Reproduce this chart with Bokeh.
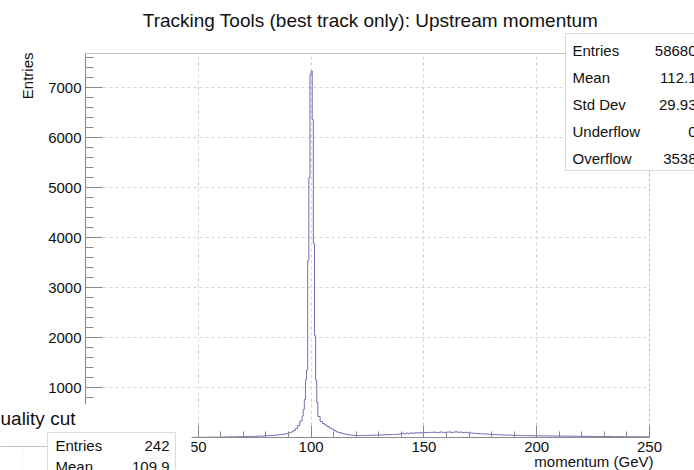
import math
from bokeh.plotting import figure
from bokeh.models import SingleIntervalTicker, Label, BoxAnnotation, Span, Range1d
from bokeh.embed import file_html
from bokeh.resources import INLINE

# ---------------- data ----------------
# 1-GeV bins, left edges 40..95
low_left_edges = list(range(40, 96))
low_counts = [0, 0, 0, 2, 0, 3, 0, 0, 4, 2,
              3, 5, 2, 6, 4, 8, 5, 7, 6, 9,
              8, 10, 12, 9, 14, 11, 15, 13, 17, 16,
              18, 20, 17, 22, 25, 21, 27, 30, 26, 33,
              35, 38, 42, 40, 48, 52, 58, 63, 70, 82,
              95, 110, 140, 180, 240, 330]
# 0.5-GeV bins around the peak, left edges 96.0..102.5
peak_left_edges = [96.0, 96.5, 97.0, 97.5, 98.0, 98.5, 99.0,
                   99.5, 100.0, 100.5, 101.0, 101.5, 102.0, 102.5]
peak_counts = [430, 560, 760, 1150, 1350, 3540, 5200,
               7260, 7330, 6360, 3880, 2040, 1140, 700]
# 1-GeV bins, left edges 103..249
high_left_edges = list(range(103, 250))
high_counts = [420, 320, 280, 250, 220, 190, 170, 140, 115, 100,
               90, 75, 65, 58, 50, 45, 42,
               40, 38, 41, 36, 39, 44, 40, 47, 45, 50,
               52, 48, 55, 58, 54, 60, 63, 59, 66, 70,
               85, 72, 88, 78, 92, 84, 95, 90, 98, 93,
               100, 96, 104, 99, 108, 102, 97, 110, 104, 100,
               106, 112, 101, 108, 115, 103, 110, 98, 105, 96,
               92, 88, 85, 80, 78, 74, 70, 72, 66, 63,
               60, 58, 55, 57, 52, 50, 48, 51, 46, 44,
               42, 45, 40, 38, 41, 36, 39, 35, 37, 34,
               33, 36, 31, 34, 30, 32, 29, 31, 28, 30,
               27, 29, 26, 28, 25, 27, 24, 26, 23, 25,
               24, 22, 25, 21, 23, 20, 22, 19, 21, 20,
               19, 21, 18, 20, 17, 19, 16, 18, 17, 15,
               16, 14, 17, 15, 13, 16, 14, 12, 15, 13]
last_edge = 250

x_ticks_interval = 50
y_ticks_interval = 1000

stats_labels = ["Entries", "Mean", "Std Dev", "Underflow", "Overflow"]
stats_values = ["58680", "112.1", "29.93", "0", "3538"]
stats2_labels = ["Entries", "Mean"]
stats2_values = ["242", "109.9"]

title_text = "Tracking Tools (best track only): Upstream momentum"
x_title = "momentum (GeV)"
y_title = "Entries"
other_title = "uality cut"

FONT = "Liberation Sans"
GRAY = "#8a8a8a"
TXT = "#111111"
W, H = 694, 470

# ---------------- main histogram figure ----------------
p = figure(width=W, height=H, output_backend="svg", toolbar_location=None,
           x_range=Range1d(0, 250), y_range=Range1d(0, 7680),
           min_border_left=85, min_border_right=45, min_border_top=53,
           min_border_bottom=33, background_fill_color="white",
           border_fill_color="white", outline_line_color=None, title=None)
p.styles = {"position": "absolute", "left": "0px", "top": "0px"}

for ax in (p.xaxis[0], p.yaxis[0]):
    ax.axis_line_color = GRAY
    ax.major_tick_line_color = GRAY
    ax.minor_tick_line_color = GRAY
    ax.major_tick_out = 0
    ax.minor_tick_out = 0
    ax.major_label_text_font = FONT
    ax.major_label_text_font_size = "15px"
    ax.major_label_text_color = TXT
    ax.major_label_standoff = 4

p.xaxis.ticker = SingleIntervalTicker(interval=x_ticks_interval, num_minor_ticks=5)
p.yaxis.ticker = SingleIntervalTicker(interval=y_ticks_interval, num_minor_ticks=5)
p.xaxis.major_tick_in = 12
p.xaxis.minor_tick_in = 6
p.yaxis.major_tick_in = 17
p.yaxis.minor_tick_in = 8

p.grid.grid_line_color = "#d4d4d4"
p.grid.grid_line_dash = "3 3"

xs = low_left_edges + peak_left_edges + high_left_edges + [last_edge]
counts = low_counts + peak_counts + high_counts
ys = counts + [counts[-1]]
p.step(xs, ys, mode="after", line_color="#7070b8", line_width=1)

p.add_layout(Span(location=7680, dimension="width", line_color=GRAY, line_width=1))
p.add_layout(Span(location=250, dimension="height", line_color="#7a7a7a",
                  line_width=1, line_dash="3 2"))

# ---------------- transparent overlay for texts and boxes outside the frame ----------------
o = figure(width=W, height=H, output_backend="svg", toolbar_location=None,
           x_range=Range1d(0, W), y_range=Range1d(H, 0),
           min_border=0, x_axis_type=None, y_axis_type=None,
           background_fill_alpha=0, border_fill_alpha=0,
           outline_line_color=None, title=None)
o.styles = {"position": "absolute", "left": "0px", "top": "0px"}


def box(l, r, t, b, fill="white", line=GRAY, dash="solid"):
    return BoxAnnotation(left=l, right=r, top=t, bottom=b,
                         fill_color=fill if fill else "white",
                         fill_alpha=1 if fill else 0,
                         line_color=line, line_width=1, line_dash=dash,
                         level="overlay")


def label(x, y, text, size="15px", align="left", baseline="middle", angle=0.0):
    return Label(x=x, y=y, text=text, text_font=FONT, text_font_size=size,
                 text_color=TXT, text_align=align, text_baseline=baseline,
                 angle=angle, level="overlay")


o.add_layout(label(370, 20, title_text, size="19px", align="center"))
o.add_layout(label(27, 52, y_title, size="15px", align="right",
                   angle=math.pi / 2))
o.add_layout(label(653, 461, x_title, size="15px", align="right"))

# main stats box
o.add_layout(box(565, 712, 33, 170))
for i, (lab, val) in enumerate(zip(stats_labels, stats_values)):
    cy = 50 + 27 * i
    o.add_layout(label(572, cy, lab))
    o.add_layout(label(696, cy, val, align="right"))

# overlapping lower-left pad
o.add_layout(box(-20, 191, 404, 490, line=None))
o.add_layout(label(0, 418, other_title, size="19px"))
o.add_layout(box(-20, 47, 446, 446, fill=None))
o.add_layout(box(22, 22, 446, 490, fill=None, line="#d4d4d4", dash="3 3"))
o.add_layout(box(47, 175, 432, 500))
for i, (lab, val) in enumerate(zip(stats2_labels, stats2_values)):
    cy = 445 + 21 * i
    o.add_layout(label(55, cy, lab))
    o.add_layout(label(169, cy, val, align="right"))

open("out.html", "w").write(file_html([p, o], INLINE))
